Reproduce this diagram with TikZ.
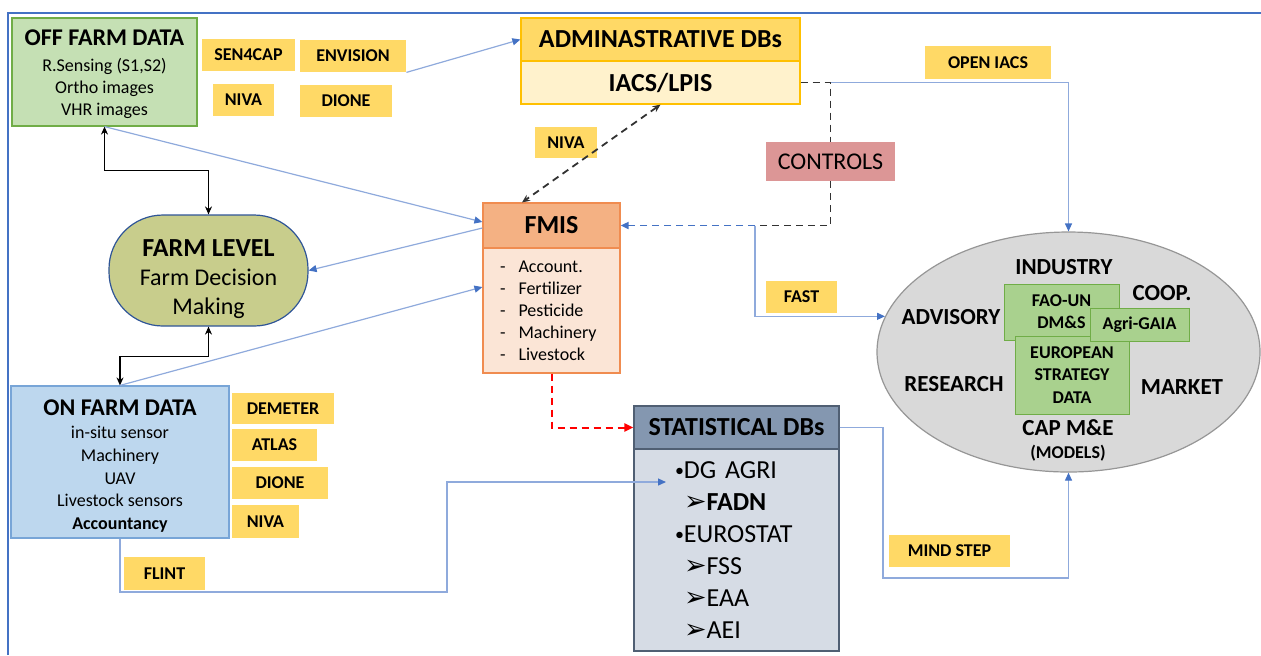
\documentclass[tikz,border=0pt]{standalone}
\usepackage{fontspec}
\setmainfont{Carlito}
\newfontfamily\symfont{DejaVu Sans}
\usetikzlibrary{shapes.geometric,arrows.meta,positioning}

\definecolor{framecol}{RGB}{68,114,196}
\definecolor{tagyellow}{RGB}{255,217,102}
\definecolor{offfill}{RGB}{197,224,180}
\definecolor{offborder}{RGB}{112,173,71}
\definecolor{admintop}{RGB}{255,217,102}
\definecolor{adminlow}{RGB}{255,242,204}
\definecolor{adminborder}{RGB}{255,192,0}
\definecolor{ctrlfill}{RGB}{220,150,150}
\definecolor{fmishead}{RGB}{244,177,131}
\definecolor{fmisbody}{RGB}{251,229,214}
\definecolor{fmisborder}{RGB}{240,140,80}
\definecolor{farmfill}{RGB}{200,205,140}
\definecolor{farmborder}{RGB}{47,85,151}
\definecolor{onfill}{RGB}{189,215,238}
\definecolor{onborder}{RGB}{120,165,215}
\definecolor{stathead}{RGB}{132,151,176}
\definecolor{statbody}{RGB}{214,220,229}
\definecolor{statborder}{RGB}{80,95,115}
\definecolor{actfill}{RGB}{217,217,217}
\definecolor{actborder}{RGB}{150,150,150}
\definecolor{gaiafill}{RGB}{169,209,142}
\definecolor{gaiaborder}{RGB}{112,173,71}
\definecolor{flowline}{RGB}{143,170,220}
\definecolor{flowblue}{RGB}{68,114,196}
\definecolor{ctrlgray}{RGB}{50,50,50}
\definecolor{redline}{RGB}{255,0,0}

\tikzstyle{tag} = [fill=tagyellow, inner sep=0pt, font=\bfseries\fontsize{9}{11}\selectfont]
\tikzstyle{flow} = [draw=flowline, line width=0.6pt, -{Triangle[length=4pt,width=3.5pt,color=flowblue]}]
\tikzstyle{redflow} = [draw=redline, line width=1pt, dash pattern=on 3.5pt off 2.5pt, -{Triangle[length=4.5pt,width=4pt,color=redline]}]
\tikzstyle{link} = [draw=black, line width=0.6pt, {Stealth[length=4pt,width=3.5pt]}-{Stealth[length=4pt,width=3.5pt]}]
\tikzstyle{ctrl} = [draw=ctrlgray, line width=0.9pt, dash pattern=on 3.5pt off 2.5pt]
\tikzstyle{greenbox} = [fill=gaiafill, draw=gaiaborder, line width=0.5pt, inner sep=0pt, align=center, font=\bfseries\fontsize{9}{11}\selectfont]
\tikzstyle{actor} = [inner sep=0pt, font=\bfseries\fontsize{11.5}{13}\selectfont]

\newcommand{\statarrow}{\hspace{4.5pt}{\symfont\fontsize{13.5}{16}\selectfont ➢}}
\newcommand{\statdot}{{\fontsize{9}{16}\selectfont\raisebox{1.2pt}{•}}}

\begin{document}
\begin{tikzpicture}[x=0.5pt, y=-0.5pt]
    \useasboundingbox (0,0) rectangle (1261,655);

    % frame
    \draw[framecol, line width=1pt] (8,655) -- (8,13) -- (1261,13);

    % off farm data
    \node[fill=offfill, draw=offborder, line width=0.6pt, minimum width=92.5pt, minimum height=54pt,
        inner sep=0pt, align=center, font=\fontsize{9}{11}\selectfont] (offfarm) at (104.5,72)
        {\rule{0pt}{10pt}{\bfseries\fontsize{12}{12}\selectfont OFF FARM DATA}\\[2pt] R.Sensing (S1,S2)\\ Ortho images\\ VHR images};
    \node[tag, minimum width=46.5pt, minimum height=16pt] (sencap) at (248.5,55) {SEN4CAP};
    \node[tag, minimum width=53pt, minimum height=16pt] (envision) at (353,56) {ENVISION};
    \node[tag, minimum width=30.5pt, minimum height=16pt] (nivaoff) at (243.5,100) {NIVA};
    \node[tag, minimum width=46pt, minimum height=16pt] (dioneoff) at (346,101) {DIONE};

    % administrative DBs
    \node[fill=admintop, draw=adminborder, line width=0.6pt, minimum width=139.5pt, minimum height=21.5pt,
        inner sep=0pt, font=\bfseries\fontsize{13}{15}\selectfont] (admin) at (660.5,39.5) {ADMINASTRATIVE DBs};
    \node[fill=adminlow, draw=adminborder, line width=0.6pt, minimum width=139.5pt, minimum height=21.5pt,
        inner sep=0pt, font=\bfseries\fontsize{13}{15}\selectfont] (iacs) at (660.5,82.5) {IACS/LPIS};
    \node[tag, minimum width=31pt, minimum height=15.5pt] (nivamid) at (566,142.5) {NIVA};
    \node[fill=ctrlfill, minimum width=64.5pt, minimum height=19.5pt, inner sep=0pt,
        font=\fontsize{12}{14}\selectfont] (controls) at (830.5,161.5) {CONTROLS};
    \node[tag, minimum width=63pt, minimum height=16.5pt] (openiacs) at (988,62.5) {OPEN IACS};

    % FMIS
    \node[fill=fmishead, draw=fmisborder, line width=0.6pt, minimum width=68.5pt, minimum height=22.5pt,
        inner sep=0pt, font=\bfseries\fontsize{13}{15}\selectfont] (fmis) at (551.5,225.5) {FMIS};
    \node[fill=fmisbody, draw=fmisborder, line width=0.6pt, minimum width=68.5pt, minimum height=62.5pt,
        inner sep=0pt, text width=51.5pt, align=left, font=\fontsize{9}{11}\selectfont] (fmislist) at (551.5,310.5)
        {-\hspace{6.5pt}Account.\\ -\hspace{6.5pt}Fertilizer\\ -\hspace{6.5pt}Pesticide\\ -\hspace{6.5pt}Machinery\\ -\hspace{6.5pt}Livestock};
    \node[tag, minimum width=35.5pt, minimum height=16pt] (fast) at (801.5,297) {FAST};

    % farm level
    \node[fill=farmfill, draw=farmborder, line width=0.6pt, rounded corners=27pt, minimum width=99.5pt,
        minimum height=55.5pt, inner sep=0pt, align=center, font=\fontsize{12}{14.5}\selectfont] (farm) at (208.5,270.5)
        {\rule{0pt}{17.5pt}{\bfseries\fontsize{13}{14.5}\selectfont FARM LEVEL}\\ Farm Decision\\ Making};

    % on farm data
    \node[fill=onfill, draw=onborder, line width=0.6pt, minimum width=109pt, minimum height=76pt,
        inner sep=0pt, align=center, font=\fontsize{9}{11.4}\selectfont] (onfarm) at (120,462)
        {\rule{0pt}{12pt}{\bfseries\fontsize{12}{12}\selectfont ON FARM DATA}\\ in-situ sensor\\ Machinery\\ UAV\\ Livestock sensors\\ \textbf{Accountancy}};
    \node[tag, minimum width=51pt, minimum height=15.5pt] (demeter) at (283,408.5) {DEMETER};
    \node[tag, minimum width=42.5pt, minimum height=16pt] (atlas) at (274.5,445) {ATLAS};
    \node[tag, minimum width=48pt, minimum height=16pt] (dioneon) at (280,483) {DIONE};
    \node[tag, minimum width=33.5pt, minimum height=16.5pt] (nivaon) at (265.5,521.5) {NIVA};
    \node[tag, minimum width=40.5pt, minimum height=16.5pt] (flint) at (164.5,573.5) {FLINT};

    % statistical DBs
    \node[fill=stathead, draw=statborder, line width=0.6pt, minimum width=102.5pt, minimum height=21.5pt,
        inner sep=0pt, font=\bfseries\fontsize{13}{15}\selectfont] (stat) at (736.5,427.5) {STATISTICAL DBs};
    \node[fill=statbody, draw=statborder, line width=0.6pt, minimum width=102.5pt, minimum height=101pt,
        inner sep=0pt, text width=61.5pt, align=left, font=\fontsize{13}{16}\selectfont] (statlist) at (736.5,550)
        {\statdot DG AGRI\\ \statarrow\textbf{FADN}\\ \statdot EUROSTAT\\ \statarrow FSS\\ \statarrow EAA\\ \statarrow AEI};
    \node[tag, minimum width=60.5pt, minimum height=16pt] (mindstep) at (949.5,551) {MIND STEP};

    % actors
    \node[ellipse, fill=actfill, draw=actborder, line width=0.6pt, minimum width=191.5pt, minimum height=120pt,
        inner sep=0pt] (actors) at (1068.5,352) {};
    \node[actor] (industry) at (1064,267) {INDUSTRY};
    \node[actor] (coop) at (1162,293) {COOP.};
    \node[actor] (advisory) at (951,317) {ADVISORY};
    \node[actor] (research) at (954,384) {RESEARCH};
    \node[actor] (market) at (1182,387) {MARKET};
    \node[actor] (capme) at (1068,428) {CAP M\&E};
    \node[inner sep=0pt, font=\bfseries\fontsize{9}{10}\selectfont] (models) at (1068,453) {(MODELS)};
    \node[greenbox, minimum width=57.5pt, minimum height=28pt] (fao) at (1061.5,312) {FAO-UN\\DM\&S};
    \node[greenbox, minimum width=57pt, minimum height=39pt, font=\bfseries\fontsize{9}{11.25}\selectfont] (strategy) at (1072,375)
        {EUROPEAN\\STRATEGY\\DATA};
    \node[greenbox, minimum width=49.5pt, minimum height=16.5pt] (gaia) at (1139.5,324.5) {Agri-GAIA};

    % farm level links
    \draw[link] (offfarm.south) -- ++(0,44) -| (farm.north);
    \draw[link] (farm.south) -- ++(0,30) -| (onfarm.north);

    % flows around FMIS
    \draw[flow] (offfarm.south) -- ([yshift=1.75pt]fmis.west);
    \draw[flow] ([yshift=-1.25pt]fmis.west) -- (farm.east);
    \draw[flow] (onfarm.north) -- ([yshift=11.75pt]fmislist.west);
    \draw[flow] (envision.south east) -- (admin.west);
    \draw[link, draw=ctrlgray, line width=0.9pt, dash pattern=on 3.5pt off 2.5pt] (iacs.south) -- ([xshift=-14.75pt]fmis.north);

    % controls and open data
    \coordinate (ctrlturn) at (controls.north |- iacs.east);
    \coordinate (fastsplit) at (755,225.5);
    \draw[flow] (ctrlturn) -| (actors.north);
    \draw[ctrl] (iacs.east) -- (ctrlturn) -- (controls.north);
    \draw[ctrl] (controls.south) |- (fastsplit);
    \draw[flow, draw=flowblue, line width=0.9pt, dash pattern=on 3.5pt off 2.5pt] (fastsplit) -- (fmis.east);
    \draw[flow] (fastsplit) |- (actors.169);

    % statistical flows
    \coordinate (flintturn) at (447,592);
    \coordinate (fadnin) at (666,482);
    \coordinate (mindturn) at (883,578);
    \draw[redflow] (fmislist.south) |- (stat.west);
    \draw[flow] (onfarm.south) |- (flintturn) |- (fadnin);
    \draw[flow] (stat.east) -| (mindturn) -| (actors.south);
\end{tikzpicture}
\end{document}
